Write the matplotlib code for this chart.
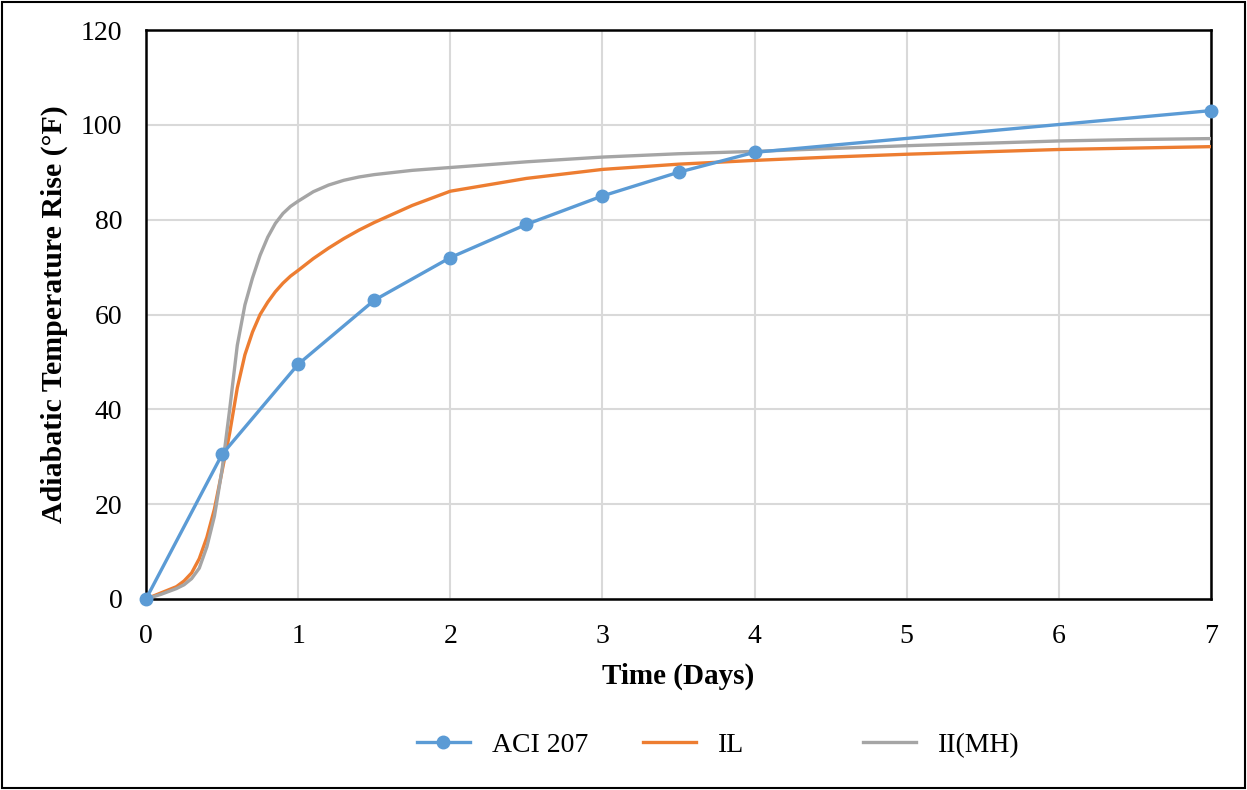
import matplotlib
matplotlib.use("Agg")
import matplotlib.pyplot as plt
from matplotlib.lines import Line2D
from matplotlib.patches import Rectangle

# ACI 207 reference points
aci_days = [0, 0.5, 1.0, 1.5, 2.0, 2.5, 3.0, 3.5, 4.0, 7.0]
aci_rise = [0, 30.5, 49.5, 63.0, 72.0, 79.0, 85.0, 90.0, 94.2, 103.0]

# Time grid for the two cement curves
curve_days = [0, 0.1, 0.2, 0.25, 0.3, 0.35, 0.4, 0.45, 0.5, 0.55, 0.6, 0.65,
              0.7, 0.75, 0.8, 0.85, 0.9, 0.95, 1.0, 1.1, 1.2, 1.3, 1.4, 1.5,
              1.75, 2.0, 2.5, 3.0, 3.5, 4.0, 4.5, 5.0, 5.5, 6.0, 6.5, 7.0]
il_rise = [0, 1.3, 2.6, 3.8, 5.5, 8.5, 13.0, 19.0, 27.0, 35.0, 44.5, 51.5,
           56.3, 60.0, 62.6, 64.8, 66.6, 68.1, 69.3, 71.8, 74.0, 76.0, 77.8,
           79.4, 83.0, 86.0, 88.7, 90.6, 91.7, 92.5, 93.2, 93.8, 94.3, 94.8,
           95.1, 95.4]
mh_rise = [0, 1.0, 2.2, 3.0, 4.3, 6.5, 11.0, 17.5, 27.3, 40.0, 53.5, 62.0,
           67.7, 72.5, 76.3, 79.2, 81.3, 82.8, 83.9, 85.9, 87.3, 88.3, 89.0,
           89.5, 90.4, 91.0, 92.2, 93.2, 93.9, 94.4, 95.0, 95.6, 96.1, 96.6,
           96.9, 97.1]

x_ticks = [0, 1, 2, 3, 4, 5, 6, 7]
y_ticks = [0, 20, 40, 60, 80, 100, 120]

BLUE = "#5B9BD5"
ORANGE = "#ED7D31"
GRAY = "#A5A5A5"

plt.rcParams["font.family"] = ["Liberation Serif", "DejaVu Serif"]

fig = plt.figure(figsize=(12.47, 7.90), dpi=100)
ax = fig.add_axes([146 / 1247, 1 - 599 / 790, (1211 - 146) / 1247, (599 - 30) / 790])

ax.plot(curve_days, il_rise, color=ORANGE, lw=2.4, zorder=3)
ax.plot(curve_days, mh_rise, color=GRAY, lw=2.4, zorder=3)
ax.plot(aci_days, aci_rise, color=BLUE, lw=2.4, marker="o", ms=9,
        zorder=4, clip_on=False)

ax.set_xlim(0, 7)
ax.set_ylim(0, 120)
ax.set_xticks(x_ticks)
ax.set_yticks(y_ticks)
ax.tick_params(axis="both", length=0, labelsize=20)
ax.tick_params(axis="x", pad=18)
ax.tick_params(axis="y", pad=17)
ax.grid(True, color="#D9D9D9", lw=1.5, zorder=0)
ax.set_axisbelow(True)
for s in ax.spines.values():
    s.set_color("black")
    s.set_linewidth(1.8)

ax.set_xlabel("Time (Days)", fontsize=21, fontweight="bold")
ax.set_ylabel("Adiabatic Temperature Rise (°F)", fontsize=21.5, fontweight="bold")
ax.xaxis.set_label_coords(0.5, -0.112)
ax.yaxis.set_label_coords(-0.073, 0.5)

# Legend entries placed along the bottom
entries = [
    (Line2D([], [], color=BLUE, lw=2.4, marker="o", ms=9), "ACI 207", 417),
    (Line2D([], [], color=ORANGE, lw=2.4), "IL", 643),
    (Line2D([], [], color=GRAY, lw=2.4), "II(MH)", 863),
]
for handle, label, xpx in entries:
    leg = fig.legend([handle], [label], loc="center left",
                     bbox_to_anchor=(xpx / 1247, 1 - 745 / 790),
                     frameon=False, fontsize=20, handlelength=1.9,
                     handletextpad=0.8, borderpad=0, borderaxespad=0)

fig.patches.append(Rectangle((0.0015, 0.0025), 0.997, 0.995, transform=fig.transFigure,
                             fill=False, edgecolor="black", lw=1.5))

fig.savefig("out.png", dpi=100)
